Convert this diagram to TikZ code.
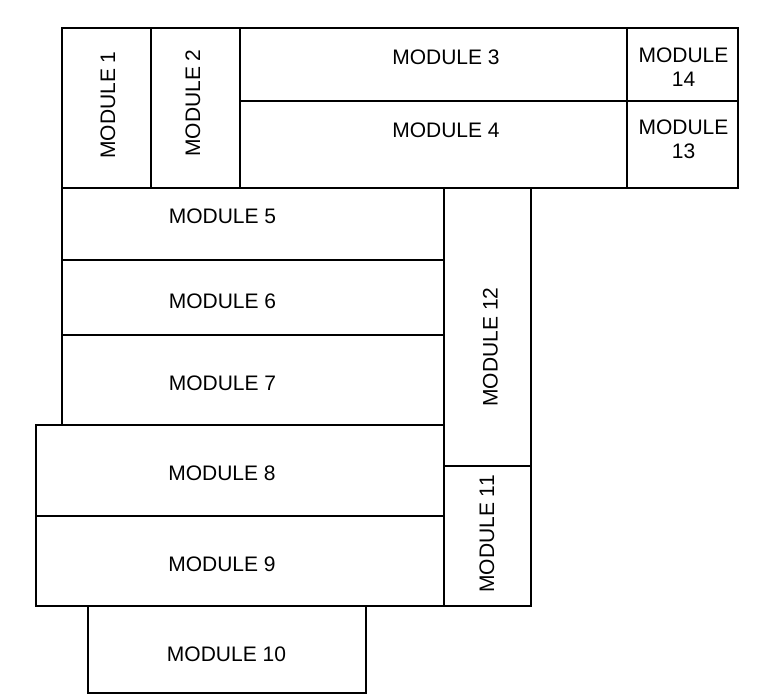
\documentclass[tikz,border=0pt]{standalone}
\usepackage{fontspec}
\setmainfont{Liberation Sans}
\usepackage{tikz}
\usetikzlibrary{positioning}

\begin{document}
\begin{tikzpicture}[
    x=1pt, y=-1pt,
    module/.style={rectangle, draw, line width=1.2pt, inner sep=0pt},
    modtext/.style={inner sep=0pt, font=\fontsize{21}{24}\selectfont, align=center},
    vert/.style={modtext, rotate=90}
]
    \useasboundingbox (0,0) rectangle (763,698);

    % top row
    \node[module, minimum width=89, minimum height=160] (m1) at (106.5,108) {};
    \node[module, minimum width=89, minimum height=160] (m2) at (195.5,108) {};
    \node[module, minimum width=387, minimum height=73] (m3) at (433.5,64.5) {};
    \node[module, minimum width=387, minimum height=87] (m4) at (433.5,144.5) {};
    \node[module, minimum width=111, minimum height=73] (m14) at (682.5,64.5) {};
    \node[module, minimum width=111, minimum height=87] (m13) at (682.5,144.5) {};

    % middle block
    \node[module, minimum width=382, minimum height=72] (m5) at (253,224) {};
    \node[module, minimum width=382, minimum height=75] (m6) at (253,297.5) {};
    \node[module, minimum width=382, minimum height=90] (m7) at (253,380) {};
    \node[module, minimum width=87, minimum height=278] (m12) at (487.5,327) {};

    % bottom block
    \node[module, minimum width=408, minimum height=91] (m8) at (240,470.5) {};
    \node[module, minimum width=408, minimum height=90] (m9) at (240,561) {};
    \node[module, minimum width=87, minimum height=140] (m11) at (487.5,536) {};
    \node[module, minimum width=278, minimum height=87] (m10) at (227,649.5) {};

    % labels
    \node[vert] (t1) at (108,105) {MODULE 1};
    \node[vert] (t2) at (193,103) {MODULE 2};
    \node[modtext] (t3) at (446,57) {MODULE 3};
    \node[modtext] (t4) at (446,130.5) {MODULE 4};
    \node[modtext] (t14) at (683.5,67) {MODULE\\14};
    \node[modtext] (t13) at (683.5,139) {MODULE\\13};
    \node[modtext] (t5) at (222.5,216) {MODULE 5};
    \node[modtext] (t6) at (222.5,301.5) {MODULE 6};
    \node[modtext] (t7) at (222.5,383) {MODULE 7};
    \node[vert] (t12) at (490.5,347) {MODULE 12};
    \node[modtext] (t8) at (222,473) {MODULE 8};
    \node[modtext] (t9) at (222,564.5) {MODULE 9};
    \node[vert] (t11) at (487,534) {MODULE 11};
    \node[modtext] (t10) at (226.5,654) {MODULE 10};
\end{tikzpicture}
\end{document}
